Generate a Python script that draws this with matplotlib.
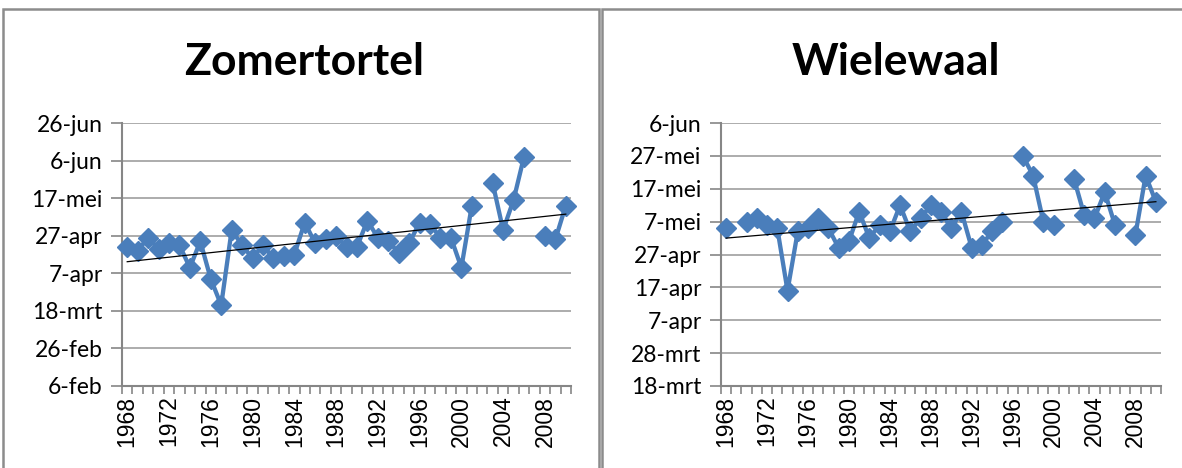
import numpy as np
import matplotlib
matplotlib.use("Agg")
import matplotlib.pyplot as plt
from matplotlib.patches import Rectangle

# ---------------------------------------------------------------
# first arrival date per year, as day of year (non-leap calendar)
years = list(range(1968, 2011))

zomertortel = [111, 109, 116, 110, 113, 112, 100, 114, 94, 80,
               120, 112, 105, 112, 105, 106, 107, 124, 113, 115,
               117, 111, 111, 125, 116, 114, 108, 113, 124, 123,
               116, 116, 100, 133, np.nan, 145, 120, 136, 159, np.nan,
               117, 115, 133]

wielewaal = [125, np.nan, 127, 128, 126, 125, 106, 124, 125, 128,
             125, 119, 121, 130, 122, 126, 124, 132, 124, 128,
             132, 130, 125, 130, 119, 120, 124, 127, np.nan, 147,
             141, 127, 126, np.nan, 140, 129, 128, 136, 126, np.nan,
             123, 141, 133]

left_ticks = [37, 57, 77, 97, 117, 137, 157, 177]
left_labels = ["6-feb", "26-feb", "18-mrt", "7-apr", "27-apr", "17-mei", "6-jun", "26-jun"]

right_ticks = [77, 87, 97, 107, 117, 127, 137, 147, 157]
right_labels = ["18-mrt", "28-mrt", "7-apr", "17-apr", "27-apr", "7-mei", "17-mei", "27-mei", "6-jun"]

year_labels = [str(y) for y in years[::4]]

BLUE = "#4a7ebb"
GRID = "#a6a6a6"
AXIS = "#868686"

W, H = 1182, 468
fig = plt.figure(figsize=(W / 100, H / 100), dpi=100)
fig.patch.set_facecolor("white")


def px_axes(x0, x1, ytop, ybot):
    return fig.add_axes([x0 / W, (H - ybot) / H, (x1 - x0) / W, (ybot - ytop) / H])


def draw_panel(ax, values, yticks, ylabels):
    x = np.arange(len(years))
    vals = np.array(values, dtype=float)

    ax.set_xlim(-0.5, len(years) - 0.5)
    ax.set_ylim(yticks[0], yticks[-1])

    ax.set_yticks(yticks)
    ax.set_yticklabels(ylabels, family="Lato", fontsize=16.5)
    ax.yaxis.grid(True, color=GRID, lw=1.3)
    ax.set_axisbelow(True)

    # ticks on category boundaries, labels every fourth year
    ax.set_xticks(np.arange(-0.5, len(years), 1.0))
    ax.set_xticklabels([])
    ax.set_xticks(x[::4], minor=True)
    ax.set_xticklabels(year_labels, minor=True, rotation=90,
                       family="Liberation Sans", fontsize=16.5)
    ax.tick_params(axis="x", which="major", length=6, color=AXIS, width=1.2)
    ax.tick_params(axis="x", which="minor", length=0, pad=7)
    ax.tick_params(axis="y", length=8, color=AXIS, width=1.2, pad=6)

    for s in ("top", "right"):
        ax.spines[s].set_visible(False)
    for s in ("left", "bottom"):
        ax.spines[s].set_color(AXIS)
        ax.spines[s].set_linewidth(1.5)

    ax.plot(x, vals, color=BLUE, lw=3.1, marker="D", ms=10.5,
            mfc=BLUE, mec=BLUE, mew=1, zorder=3, clip_on=False)

    ok = ~np.isnan(vals)
    k, b = np.polyfit(x[ok], vals[ok], 1)
    xs = np.array([x[0], x[-1]])
    ax.plot(xs, k * xs + b, color="black", lw=0.9, zorder=4)


ax1 = px_axes(122, 571, 123, 386)
draw_panel(ax1, zomertortel, left_ticks, left_labels)

ax2 = px_axes(721, 1161, 123, 386)
draw_panel(ax2, wielewaal, right_ticks, right_labels)

fig.text(304 / W, 1 - 62 / H, "Zomertortel", family="Lato", weight="bold",
         fontsize=32, ha="center", va="center")
fig.text(896 / W, 1 - 62 / H, "Wielewaal", family="Lato", weight="bold",
         fontsize=32, ha="center", va="center")

# chart area borders
for x0, x1 in [(3, 599), (602, 1190)]:
    fig.patches.append(Rectangle((x0 / W, -0.1), (x1 - x0) / W, 1.1 - 9 / H,
                                 transform=fig.transFigure, fill=False,
                                 ec="#8c8c8c", lw=1.8))

fig.savefig("out.png", dpi=100)
